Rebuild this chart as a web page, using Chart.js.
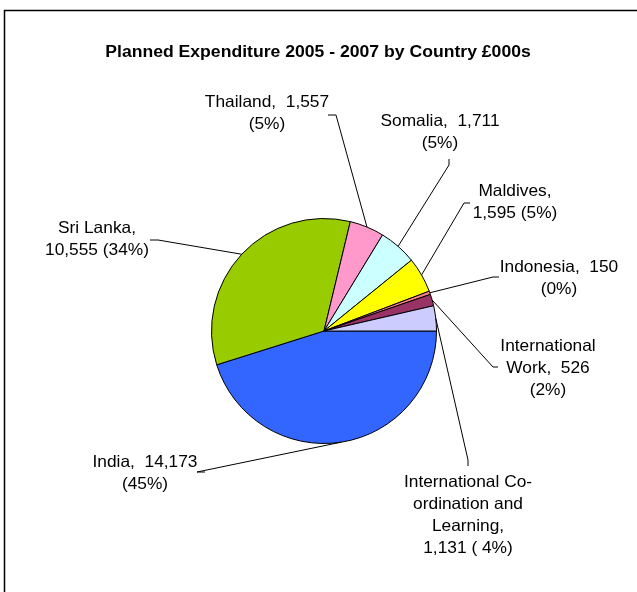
<!DOCTYPE html>
<html>
<head>
<meta charset="utf-8">
<script src="https://cdn.jsdelivr.net/npm/chart.js@4"></script>
<style>
  body { margin: 0; background: #fff; }
  canvas { display: block; }
</style>
</head>
<body>
<canvas id="pie" width="637" height="592"></canvas>
<script>
const countries = ['India', 'Sri Lanka', 'Thailand', 'Somalia', 'Maldives', 'Indonesia', 'International Work', 'International Co-ordination and Learning']
const spend = [14173, 10555, 1557, 1711, 1595, 150, 526, 1131]
const colours = ['#3366FF', '#99CC00', '#FF99CC', '#CCFFFF', '#FFFF00', '#FF8080', '#993366', '#CCCCFF']

// label lines, {v} = value, {p} = percent
const labelLines = [
  ['India,  {v}', '({p}%)'],
  ['Sri Lanka,', '{v} ({p}%)'],
  ['Thailand,  {v}', '({p}%)'],
  ['Somalia,  {v}', '({p}%)'],
  ['Maldives,', '{v} ({p}%)'],
  ['Indonesia,  {v}', '({p}%)'],
  ['International', 'Work,  {v}', '({p}%)'],
  ['International Co-', 'ordination and', 'Learning,', '{v} ( {p}%)']
]
// where each label sits (centre x, first line y) and where its leader starts
const labelPos = [
  {x: 145, y: 462, lead: [[205, 472], [197, 472]]},
  {x: 97, y: 228, lead: [[150, 240], [158, 240]]},
  {x: 267, y: 102, lead: [[328, 115], [336, 115]]},
  {x: 440, y: 121, lead: [[449, 159], [449, 165]]},
  {x: 515, y: 191, lead: [[470, 203], [464, 203]]},
  {x: 559, y: 267, lead: [[499, 277], [493, 277]]},
  {x: 548, y: 346, lead: [[498, 367], [493, 367]]},
  {x: 468, y: 482, lead: [[468, 466], [468, 460]]}
]

const total = spend.reduce((a, b) => a + b, 0)
const fmt = n => n.toLocaleString('en-GB')

// Excel text comes out a bit wider than Arial, so stretch it sideways
function wideText(ctx, txt, x, y, sx) {
  ctx.save()
  ctx.translate(x, y)
  ctx.scale(sx, 1)
  ctx.fillText(txt, 0, 0)
  ctx.restore()
}

const labelPlugin = {
  id: 'labels',
  afterDraw(chart) {
    const ctx = chart.ctx
    ctx.save()
    // outer frame
    ctx.strokeStyle = '#000'
    ctx.lineWidth = 1.5
    ctx.strokeRect(4.5, 10.5, 640, 600)

    // title
    ctx.fillStyle = '#000'
    ctx.textAlign = 'center'
    ctx.textBaseline = 'middle'
    ctx.font = 'bold 16px "Liberation Sans", Arial, sans-serif'
    wideText(ctx, 'Planned Expenditure 2005 - 2007 by Country £000s', 318, 53, 1.1)

    const arcs = chart.getDatasetMeta(0).data
    ctx.font = '16.5px "Liberation Sans", Arial, sans-serif'
    ctx.lineWidth = 1
    arcs.forEach((arc, i) => {
      const pos = labelPos[i]
      const pct = Math.round(spend[i] / total * 100)
      labelLines[i].forEach((line, j) => {
        const txt = line.replace('{v}', fmt(spend[i])).replace('{p}', pct)
        wideText(ctx, txt, pos.x, pos.y + j * 22.3, 1.05)
      })
      const mid = (arc.startAngle + arc.endAngle) / 2
      const ex = arc.x + Math.cos(mid) * arc.outerRadius
      const ey = arc.y + Math.sin(mid) * arc.outerRadius
      ctx.beginPath()
      ctx.moveTo(pos.lead[0][0], pos.lead[0][1])
      ctx.lineTo(pos.lead[1][0], pos.lead[1][1])
      ctx.lineTo(ex, ey)
      ctx.stroke()
    })
    ctx.restore()
  }
}

new Chart(document.getElementById('pie'), {
  type: 'pie',
  data: {
    labels: countries,
    datasets: [{
      data: spend,
      backgroundColor: colours,
      borderColor: '#000',
      borderWidth: 1
    }]
  },
  options: {
    responsive: false,
    animation: false,
    rotation: 90,
    layout: { padding: { left: 211, right: 200, top: 218, bottom: 148 } },
    plugins: {
      legend: { display: false },
      tooltip: { enabled: false },
      title: { display: false }
    }
  },
  plugins: [labelPlugin]
})
</script>
</body>
</html>
